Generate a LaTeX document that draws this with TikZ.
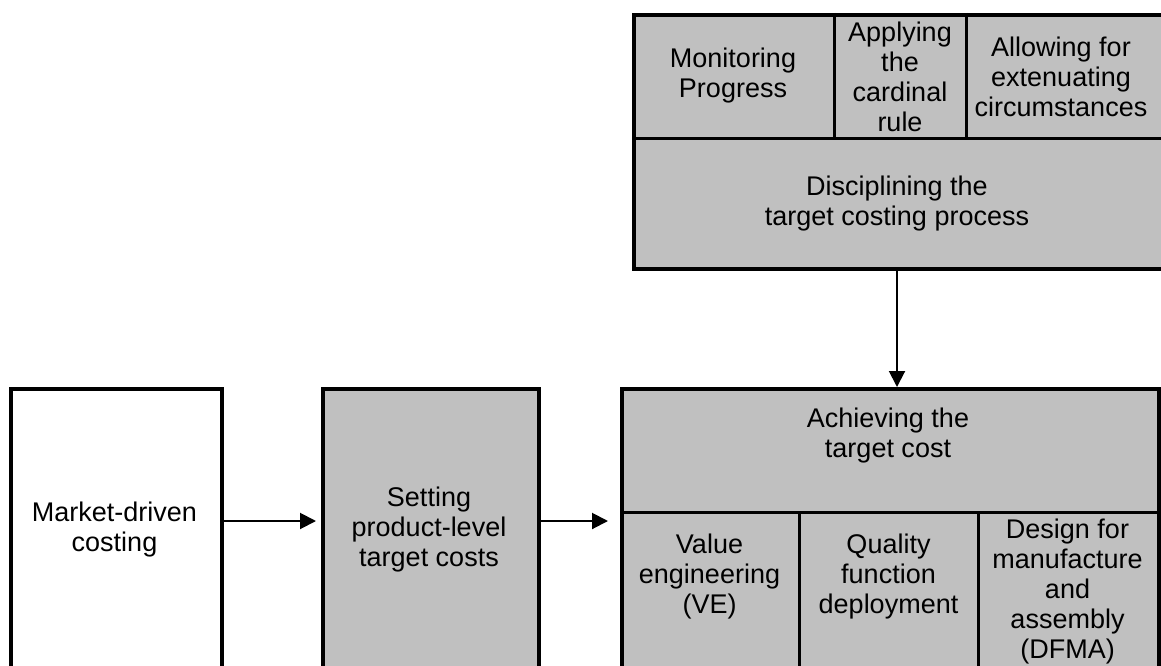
\documentclass[tikz,border=0pt]{standalone}
\usepackage{fontspec}
\setmainfont{Liberation Sans}
\usetikzlibrary{arrows.meta}
\definecolor{silver}{RGB}{192,192,192}
\begin{document}
\begin{tikzpicture}[x=1pt,y=-1pt,
  box/.style={draw=black, line width=4pt, fill=silver, inner sep=0pt, anchor=north west},
  lbl/.style={align=center, font=\fontsize{27}{30}\selectfont, inner sep=0pt},
  divider/.style={line width=3pt},
  conn/.style={line width=2pt, -{Triangle[length=16pt,width=16pt]}}]
\useasboundingbox (0,0) rectangle (1161,666);
\clip (0,0) rectangle (1161,666);
\node[box, minimum width=211pt, minimum height=300pt, fill=white] (market) at (9,387) {};
\node[box, minimum width=216pt, minimum height=300pt] (setting) at (321,387) {};
\node[box, minimum width=537pt, minimum height=300pt] (achieve) at (620,387) {};
\node[box, minimum width=540pt, minimum height=254pt] (discip) at (632,13) {};
% dividers
\draw[divider] (632,138) -- (1172,138);
\draw[divider] (834,13) -- (834,138);
\draw[divider] (966,13) -- (966,138);
\draw[divider] (620,512) -- (1157,512);
\draw[divider] (799,512) -- (799,690);
\draw[divider] (978,512) -- (978,690);
% labels
\node[lbl] (t1) at (733,76) {Monitoring\\Progress};
\node[lbl] (t2) at (900,77) {Applying\\the\\cardinal\\rule};
\node[lbl] (t3) at (1061,77) {Allowing for\\extenuating\\circumstances};
\node[lbl] (t4) at (897,204) {Disciplining the\\target costing process};
\node[lbl] (t5) at (114.5,530) {Market-driven\\costing};
\node[lbl] (t6) at (429,530) {Setting\\product-level\\target costs};
\node[lbl] (t7) at (888,436) {Achieving the\\target cost};
\node[lbl] (t8) at (709.5,577) {Value\\engineering\\(VE)};
\node[lbl] (t9) at (888.5,577) {Quality\\function\\deployment};
\node[lbl] (t10) at (1067.5,592) {Design for\\manufacture\\and\\assembly\\(DFMA)};
% connectors
\coordinate (ay) at (0,521);
\coordinate (ax) at (897,0);
\draw[conn] (market.east |- ay) -- ([xshift=-5pt]setting.west |- ay);
\draw[conn] (setting.east |- ay) -- ([xshift=-12pt]achieve.west |- ay);
\draw[conn] (discip.south -| ax) -- (achieve.north -| ax);
\end{tikzpicture}
\end{document}
